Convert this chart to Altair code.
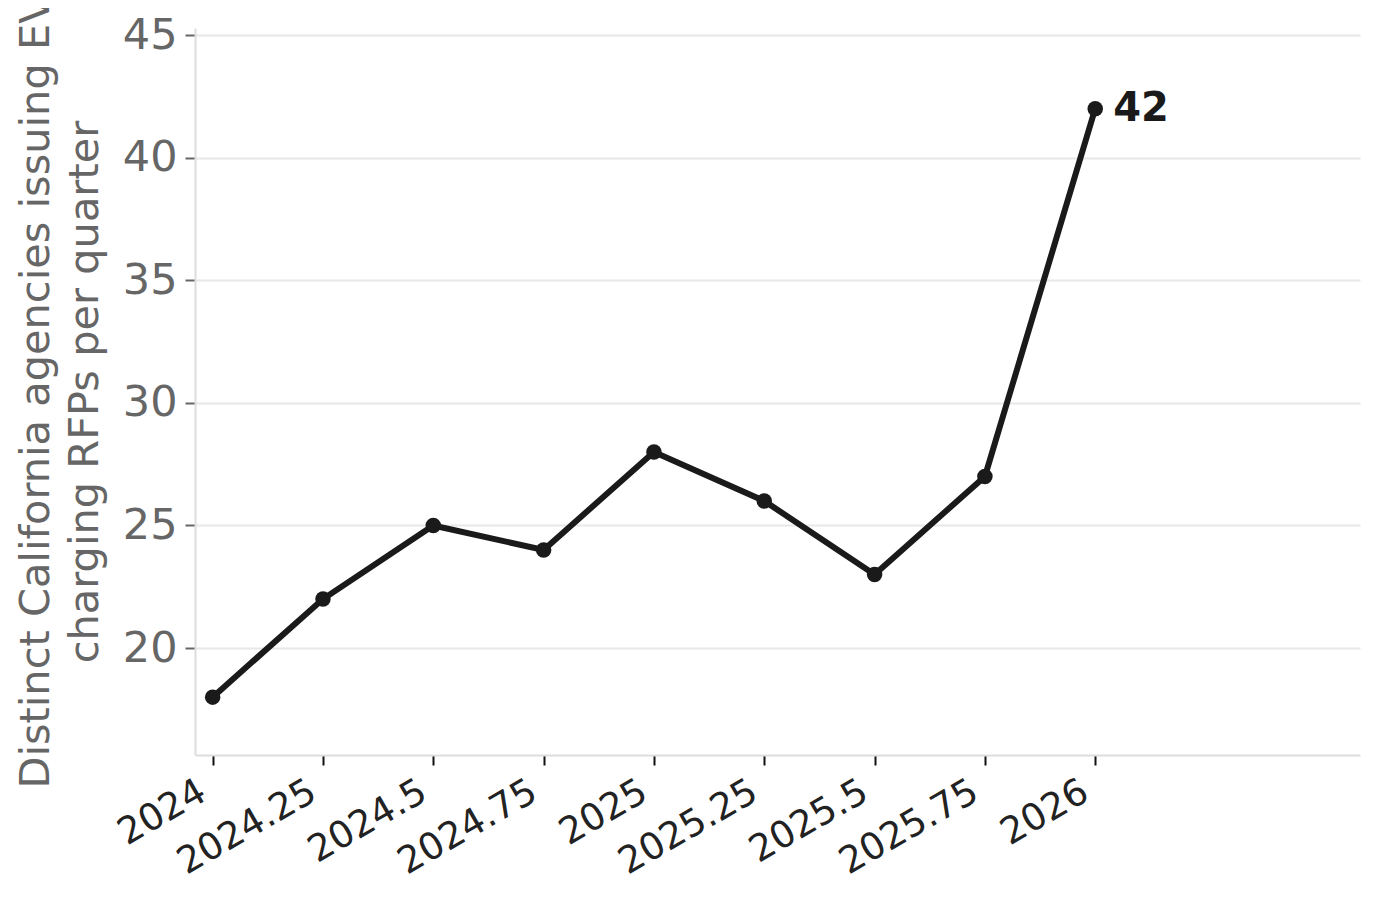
import altair as alt
import pandas as pd

quarters = [2024, 2024.25, 2024.5, 2024.75, 2025, 2025.25, 2025.5, 2025.75, 2026]
agencies = [18, 22, 25, 24, 28, 26, 23, 27, 42]
y_ticks = [20, 25, 30, 35, 40, 45]
y_title = ["Distinct California agencies issuing EV", "charging RFPs per quarter"]

df = pd.DataFrame({"q": quarters, "n": agencies})
last = df.tail(1).copy()
last["label"] = [str(agencies[-1])]

FONT = "DejaVu Sans"

x = alt.X("q:Q", scale=alt.Scale(domain=[2023.96, 2026.6], nice=False, zero=False),
          axis=alt.Axis(values=quarters, labelExpr="datum.value + ''", labelAngle=-30,
                        labelAlign="right", labelBaseline="top", labelFontSize=37,
                        labelColor="#222222", labelFont=FONT, tickColor="#111111",
                        tickSize=10, tickWidth=2, domainColor="#dddddd", domainWidth=2,
                        grid=False, title=None, labelPadding=8, labelOffset=-19,
                        labelOverlap=False, labelBound=False, labelFlush=False))
y = alt.Y("n:Q", scale=alt.Scale(domain=[15.64, 45.29], nice=False, zero=False),
          axis=alt.Axis(values=y_ticks, labelFontSize=43, labelColor="#666666",
                        labelFont=FONT, tickColor="#666666", tickSize=10, tickWidth=2,
                        domainColor="#dddddd", domainWidth=2, grid=True,
                        gridColor="#e8e8e8", gridWidth=2, title=y_title,
                        titleFontSize=41.5, titleFont=FONT, titleColor="#666666",
                        titleFontWeight="normal", titlePadding=16, titleLineHeight=49,
                        labelPadding=8))

line = alt.Chart(df).mark_line(color="#1a1a1a", strokeWidth=6).encode(x=x, y=y)
pts = alt.Chart(df).mark_circle(color="#1a1a1a", size=240, opacity=1).encode(x="q:Q", y="n:Q")
lab = alt.Chart(last).mark_text(align="left", baseline="middle", dx=18, fontSize=40,
                                fontWeight="bold", color="#1a1a1a", font=FONT).encode(
    x="q:Q", y="n:Q", text="label:N")

chart = alt.layer(line, pts, lab).properties(
    width=1165, height=727,
    autosize=alt.AutoSizeParams(type="none"),
    padding={"left": 187, "top": 20, "right": 12, "bottom": 130},
).configure_view(stroke=None)

chart.save("out.html", embed_options={"renderer": "svg", "actions": False})
